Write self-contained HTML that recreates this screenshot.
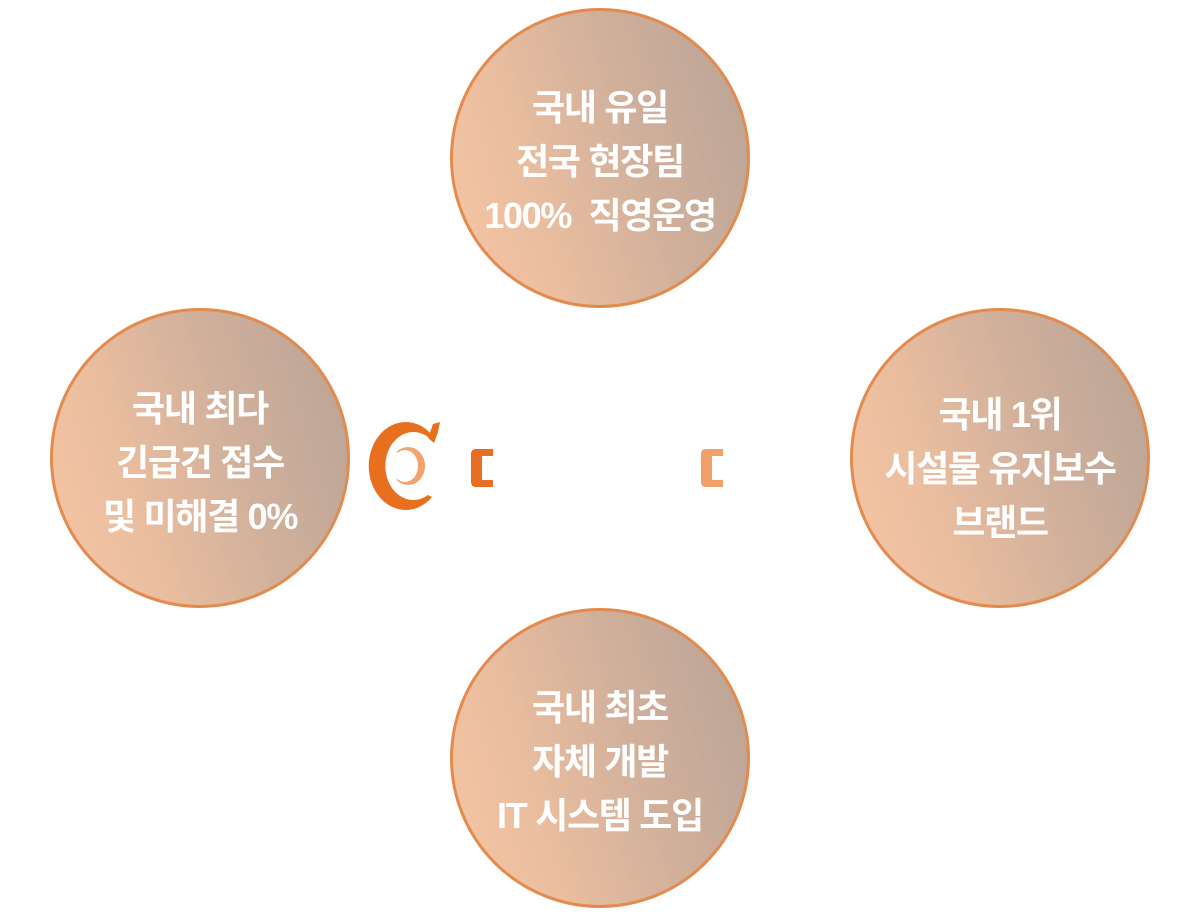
<!DOCTYPE html>
<html>
<head>
<meta charset="utf-8">
<style>
  html,body{margin:0;padding:0;background:#fff;}
  body{width:1200px;height:921px;position:relative;overflow:hidden;}
  .c{position:absolute;width:294px;height:294px;border-radius:50%;
     border:3px solid #e38b4f;
     background:linear-gradient(72deg,#f7c6a4 0%,#e9bd9f 30%,#d1b09b 60%,#b8a397 100%);}
  .t{position:absolute;width:300px;text-align:center;color:#fff;
     font-family:"Liberation Sans","Noto Sans CJK KR",sans-serif;font-weight:700;
     font-size:36px;line-height:54px;letter-spacing:-1.3px;white-space:nowrap;}
  svg{position:absolute;left:0;top:0;}
</style>
</head>
<body>
  <div class="c" style="left:450px;top:8px;"></div>
  <div class="c" style="left:50px;top:308px;"></div>
  <div class="c" style="left:850px;top:308px;"></div>
  <div class="c" style="left:450px;top:608px;"></div>

  <div class="t" style="left:450px;top:81px;">국내 유일<br>전국 현장팀<br>100%&nbsp;&nbsp;직영운영</div>
  <div class="t" style="left:50px;top:382px;">국내 최다<br>긴급건 접수<br>및 미해결 0%</div>
  <div class="t" style="left:850px;top:388px;">국내 1위<br>시설물 유지보수<br>브랜드</div>
  <div class="t" style="left:450px;top:681px;">국내 최초<br>자체 개발<br>IT 시스템 도입</div>

  <svg width="1200" height="921" viewBox="0 0 1200 921">
    <!-- big C -->
    <path d="M432 435 A37 44 0 1 0 432 497 L428 495 A28 34 0 1 1 428 437 Z" fill="#e86f1e"/>
    <path d="M428 438 L433 424 L440 422 L438 432 L434 443 Z" fill="#e86f1e"/>
    <!-- small inner reversed C -->
    <path d="M396 452.6 A17 19 0 1 1 396 479.4 L398 479.5 A13 16 0 1 0 398 452.5 Z" fill="#f2a36c"/>
    <!-- left bracket -->
    <path d="M493 449 L476 449 Q471 449 471 454 L471 482 Q471 487 476 487 L493 487 L493 480 L482 480 L482 456 L493 456 Z" fill="#e86e26"/>
    <!-- right bracket -->
    <path d="M723 449 L706 449 Q701 449 701 454 L701 482 Q701 487 706 487 L723 487 L723 480 L712 480 L712 456 L723 456 Z" fill="#f2a06a"/>
  </svg>
</body>
</html>
